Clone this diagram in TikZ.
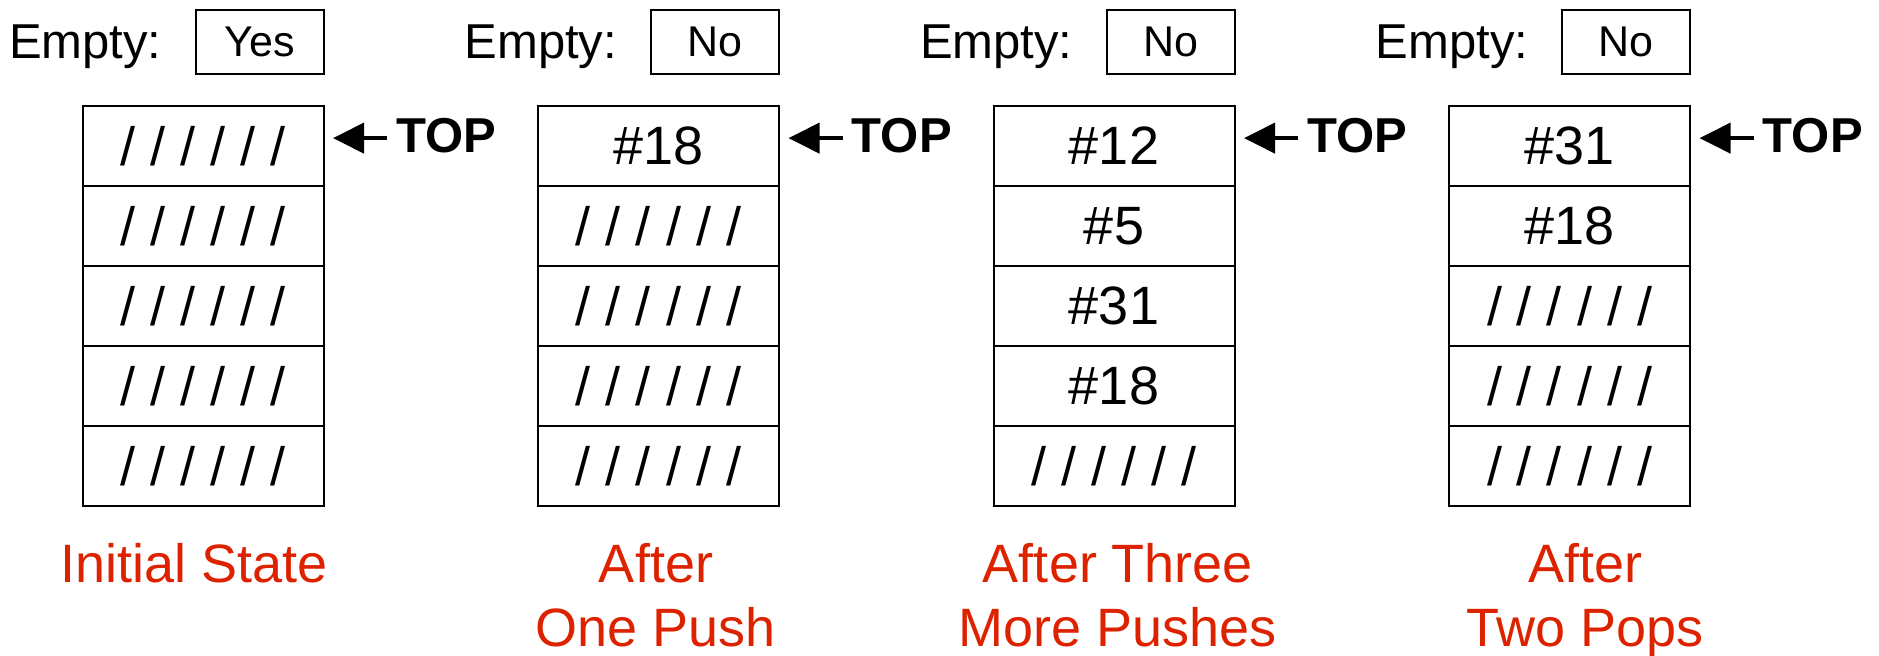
\documentclass[tikz,border=0pt]{standalone}
\usepackage{fontspec}
\setmainfont{Liberation Sans}
\usetikzlibrary{arrows.meta}
\definecolor{labelred}{RGB}{221,34,0}
\newcommand{\emptycell}{/ / / / / /}

\begin{document}
\begin{tikzpicture}[x=0.5pt, y=-0.5pt,
    cell/.style={draw, line width=1pt, minimum width=120.5pt, minimum height=40pt, inner sep=0pt, font=\fontsize{27}{32}\selectfont},
    flag/.style={draw, line width=1pt, minimum width=64pt, minimum height=32pt, inner sep=0pt, font=\fontsize{21.5}{26}\selectfont},
    flaglabel/.style={anchor=base east, inner sep=0pt, font=\fontsize{24.5}{29}\selectfont},
    toplabel/.style={anchor=base west, inner sep=0pt, font=\fontsize{24.5}{29}\selectfont\bfseries},
    toparrow/.style={-{Triangle[length=15.5pt,width=15pt]}, line width=2pt},
    caption/.style={anchor=base, align=center, inner sep=0pt, text=labelred, font=\fontsize{27}{32}\selectfont}]
  \useasboundingbox (0,0) rectangle (1879,656);
  % caption y is the baseline of its last line
  \foreach \s/\flagtext/\cells/\captext/\lx/\ly in {
      0/Yes/{\emptycell,\emptycell,\emptycell,\emptycell,\emptycell}/{Initial State}/194/582.7,
      1/No/{\#18,\emptycell,\emptycell,\emptycell,\emptycell}/{After\\One Push}/656/646.7,
      2/No/{\#12,\#5,\#31,\#18,\emptycell}/{After Three\\More Pushes}/1118/646.7,
      3/No/{\#31,\#18,\emptycell,\emptycell,\emptycell}/{After\\Two Pops}/1585/646.7} {
    \pgfmathsetmacro{\cx}{203+455.5*\s}
    % the stack, top cell first
    \foreach \v [count=\j from 0] in \cells
      \node[cell] (s\s-\j) at (\cx, 146+80*\j) {\v};
    % empty flag above it
    \node[flag] (f\s) at (\cx+56.5, 42) {\flagtext};
    \node[flaglabel] (e\s) at (\cx-41, 58.3) {Empty:};
    % top pointer
    \node[toplabel] (t\s) at (\cx+193, 153) {TOP};
    \draw[toparrow, shorten >=8.75pt] ([xshift=-4.5pt, yshift=-1pt]t\s.west) -- ([xshift=-4.5pt, yshift=-1pt]t\s.west -| s\s-0.east);
    \node[caption] (c\s) at (\lx, \ly) {\captext};
  }
\end{tikzpicture}
\end{document}
